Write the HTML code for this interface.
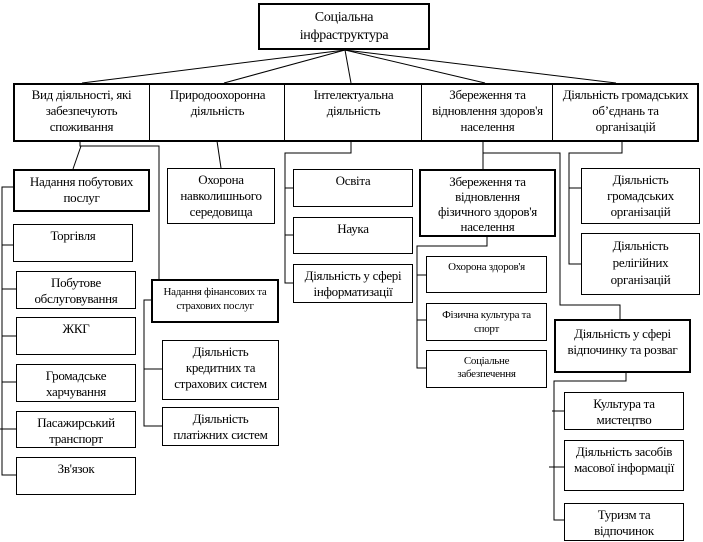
<!DOCTYPE html>
<html><head><meta charset="utf-8"><style>
body{margin:0;background:#fff;width:703px;height:542px;position:relative;overflow:hidden;font-family:"Liberation Serif","DejaVu Serif",serif;}
.b{position:absolute;box-sizing:border-box;border:1px solid #000;background:#fff;text-align:center;font-size:13px;line-height:16px;padding-top:3px;color:#000;letter-spacing:-0.3px}
.r{background:transparent}
.t{border-width:2px}
.s{font-size:11px;line-height:18px}
svg{position:absolute;left:0;top:0}
</style></head><body>
<svg width="703" height="542" stroke="#000" stroke-width="1" fill="none">
<line x1="345" y1="50" x2="82" y2="83"/><line x1="345" y1="50" x2="224" y2="83"/><line x1="345" y1="50" x2="351" y2="83"/><line x1="345" y1="50" x2="485" y2="83"/><line x1="345" y1="50" x2="616" y2="83"/>
<polyline points="80,141 80,146 159,146 159,279"/>
<line x1="81" y1="146" x2="73" y2="169"/>
<polyline points="13,187 2,187 2,475 16,475"/>
<line x1="2" y1="245" x2="13" y2="245"/><line x1="2" y1="289" x2="16" y2="289"/><line x1="2" y1="336" x2="16" y2="336"/><line x1="2" y1="382" x2="16" y2="382"/><line x1="0" y1="429" x2="16" y2="429"/>
<polyline points="151,300 144,300 144,426 162,426"/><line x1="144" y1="369" x2="162" y2="369"/>
<line x1="217" y1="141" x2="221" y2="168"/>
<polyline points="351,141 351,153 285,153 285,283 293,283"/>
<line x1="285" y1="188" x2="293" y2="188"/><line x1="285" y1="235" x2="293" y2="235"/>
<line x1="483" y1="141" x2="483" y2="169"/>
<polyline points="483,153 560,153 560,305 620,305 620,319"/>
<polyline points="487,236 487,246 417,246 417,368 426,368"/>
<line x1="417" y1="275" x2="426" y2="275"/><line x1="417" y1="320" x2="426" y2="320"/>
<polyline points="622,141 622,153 569,153 569,264 581,264"/><line x1="569" y1="188" x2="581" y2="188"/>
<polyline points="626,372 626,381 554,381 554,520 564,520"/>
<line x1="552" y1="411" x2="564" y2="411"/><line x1="549" y1="467" x2="564" y2="467"/>
</svg>
<div class="b t" style="left:258px;top:3px;width:172px;height:47px;font-size:14px;line-height:18px;padding-top:4px">Соціальна<br>інфраструктура</div>
<div class="b t" style="left:13px;top:83px;width:686px;height:59px;padding:0"></div>
<div class="b r" style="left:13px;top:83px;width:137px;height:59px;border:none;padding-top:4px">Вид діяльності, які<br>забезпечують<br>споживання</div>
<div class="b r" style="left:149px;top:83px;width:136px;height:59px;border:none;border-left:1px solid #000;padding-top:4px">Природоохоронна<br>діяльність</div>
<div class="b r" style="left:284px;top:83px;width:138px;height:59px;border:none;border-left:1px solid #000;padding-top:4px">Інтелектуальна<br>діяльність</div>
<div class="b r" style="left:421px;top:83px;width:132px;height:59px;border:none;border-left:1px solid #000;padding-top:4px">Збереження та<br>відновлення здоров'я<br>населення</div>
<div class="b r" style="left:552px;top:83px;width:146px;height:59px;border:none;border-left:1px solid #000;padding-top:4px">Діяльність громадських<br>об’єднань та<br>організацій</div>

<div class="b t" style="left:13px;top:169px;width:137px;height:43px">Надання побутових<br>послуг</div>
<div class="b" style="left:13px;top:224px;width:120px;height:38px">Торгівля</div>
<div class="b" style="left:16px;top:271px;width:120px;height:38px">Побутове<br>обслуговування</div>
<div class="b" style="left:16px;top:317px;width:120px;height:38px">ЖКГ</div>
<div class="b" style="left:16px;top:364px;width:120px;height:38px">Громадське<br>харчування</div>
<div class="b" style="left:16px;top:411px;width:120px;height:37px">Пасажирський<br>транспорт</div>
<div class="b" style="left:16px;top:457px;width:120px;height:38px">Зв'язок</div>

<div class="b" style="left:167px;top:168px;width:108px;height:56px">Охорона<br>навколишнього<br>середовища</div>
<div class="b t s" style="left:151px;top:279px;width:128px;height:44px;line-height:14px;padding-top:4px">Надання фінансових та<br>страхових послуг</div>
<div class="b" style="left:162px;top:340px;width:117px;height:60px;padding-top:3px">Діяльність<br>кредитних та<br>страхових систем</div>
<div class="b" style="left:162px;top:407px;width:117px;height:39px">Діяльність<br>платіжних систем</div>

<div class="b" style="left:293px;top:169px;width:120px;height:38px">Освіта</div>
<div class="b" style="left:293px;top:217px;width:120px;height:37px">Наука</div>
<div class="b" style="left:293px;top:264px;width:120px;height:39px">Діяльність у сфері<br>інформатизації</div>

<div class="b t" style="left:419px;top:169px;width:137px;height:68px;line-height:15px">Збереження та<br>відновлення<br>фізичного здоров'я<br>населення</div>
<div class="b s" style="left:426px;top:256px;width:121px;height:37px;padding-top:1px">Охорона здоров'я</div>
<div class="b s" style="left:426px;top:303px;width:121px;height:38px;line-height:14px;padding-top:4px">Фізична культура та<br>спорт</div>
<div class="b s" style="left:426px;top:350px;width:121px;height:38px;line-height:13px;padding-top:4px">Соціальне<br>забезпечення</div>

<div class="b" style="left:581px;top:168px;width:119px;height:56px">Діяльність<br>громадських<br>організацій</div>
<div class="b" style="left:581px;top:233px;width:119px;height:62px;line-height:17px">Діяльність<br>релігійних<br>організацій</div>
<div class="b t" style="left:554px;top:319px;width:137px;height:54px;padding-top:5px">Діяльність у сфері<br>відпочинку та розваг</div>
<div class="b" style="left:564px;top:392px;width:120px;height:38px">Культура та<br>мистецтво</div>
<div class="b" style="left:564px;top:440px;width:120px;height:51px">Діяльність засобів<br>масової інформації</div>
<div class="b" style="left:564px;top:503px;width:120px;height:38px">Туризм та<br>відпочинок</div>
</body></html>
